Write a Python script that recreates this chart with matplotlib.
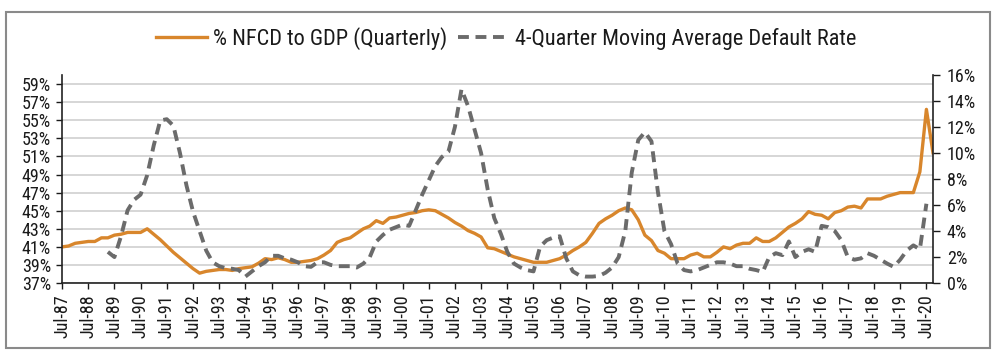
import numpy as np
import pandas as pd
import matplotlib
matplotlib.use("Agg")
import matplotlib.pyplot as plt
import matplotlib.dates as mdates
from matplotlib.patches import Rectangle

plt.rcParams['font.family'] = ['Roboto Condensed', 'DejaVu Sans']

# quarterly, Jul-87 .. Oct-20
nfcd_gdp = [
    41.0, 41.1, 41.4, 41.5,  # Jul-87
    41.6, 41.6, 42.0, 42.0,  # Jul-88
    42.3, 42.4, 42.6, 42.6,  # Jul-89
    42.6, 43.0, 42.4, 41.8,  # Jul-90
    41.1, 40.4, 39.8, 39.2,  # Jul-91
    38.6, 38.1, 38.3, 38.4,  # Jul-92
    38.5, 38.5, 38.4, 38.6,  # Jul-93
    38.7, 38.8, 39.2, 39.7,  # Jul-94
    39.6, 39.8, 39.6, 39.3,  # Jul-95
    39.3, 39.4, 39.5, 39.7,  # Jul-96
    40.1, 40.6, 41.5, 41.8,  # Jul-97
    42.0, 42.5, 43.0, 43.3,  # Jul-98
    43.9, 43.6, 44.2, 44.3,  # Jul-99
    44.5, 44.7, 44.8, 45.0,  # Jul-00
    45.1, 45.0, 44.6, 44.2,  # Jul-01
    43.7, 43.3, 42.8, 42.5,  # Jul-02
    42.1, 40.9, 40.8, 40.5,  # Jul-03
    40.2, 39.9, 39.7, 39.5,  # Jul-04
    39.3, 39.3, 39.3, 39.5,  # Jul-05
    39.7, 40.1, 40.6, 41.0,  # Jul-06
    41.5, 42.5, 43.6, 44.1,  # Jul-07
    44.5, 45.0, 45.3, 45.1,  # Jul-08
    44.0, 42.3, 41.7, 40.6,  # Jul-09
    40.3, 39.7, 39.7, 39.7,  # Jul-10
    40.1, 40.3, 39.9, 39.9,  # Jul-11
    40.4, 41.0, 40.8, 41.2,  # Jul-12
    41.4, 41.4, 42.0, 41.6,  # Jul-13
    41.6, 42.0, 42.6, 43.2,  # Jul-14
    43.6, 44.1, 44.9, 44.6,  # Jul-15
    44.5, 44.1, 44.8, 45.0,  # Jul-16
    45.4, 45.5, 45.3, 46.3,  # Jul-17
    46.3, 46.3, 46.6, 46.8,  # Jul-18
    47.0, 47.0, 47.0, 49.3,  # Jul-19
    56.2, 51.4,              # Jul-20
]

# 4-quarter moving average default rate, Apr-89 .. Jul-20
default_rate = [
    2.4,                     # Apr-89
    2.0, 3.6, 5.6, 6.4,      # Jul-89
    6.8, 8.3, 10.6, 12.5,    # Jul-90
    12.6, 12.1, 10.0, 7.5,   # Jul-91
    5.5, 4.0, 2.5, 1.6,      # Jul-92
    1.3, 1.15, 1.1, 1.0,     # Jul-93
    0.5, 0.9, 1.3, 1.6,      # Jul-94
    2.1, 2.1, 1.9, 1.8,      # Jul-95
    1.6, 1.3, 1.25, 1.6,     # Jul-96
    1.6, 1.4, 1.3, 1.3,      # Jul-97
    1.3, 1.2, 1.5, 2.0,      # Jul-98
    3.2, 3.7, 4.1, 4.3,      # Jul-99
    4.5, 4.4, 5.6, 6.8,      # Jul-00
    7.9, 9.0, 9.7, 10.1,     # Jul-01
    12.0, 14.9, 13.6, 11.8,  # Jul-02
    10.0, 7.2, 5.0, 3.8,     # Jul-03
    2.4, 1.5, 1.2, 1.0,      # Jul-04
    0.9, 2.8, 3.3, 3.5,      # Jul-05
    3.6, 1.9, 0.9, 0.6,      # Jul-06
    0.5, 0.5, 0.55, 0.8,     # Jul-07
    1.2, 2.0, 4.0, 8.5,      # Jul-08
    11.0, 11.6, 10.9, 7.0,   # Jul-09
    4.0, 3.0, 1.5, 1.0,      # Jul-10
    0.9, 1.0, 1.2, 1.4,      # Jul-11
    1.6, 1.6, 1.5, 1.3,      # Jul-12
    1.3, 1.1, 1.0, 0.85,     # Jul-13
    2.0, 2.3, 2.15, 3.2,     # Jul-14
    2.0, 2.4, 2.6, 2.4,      # Jul-15
    4.4, 4.3, 4.0, 3.3,      # Jul-16
    2.0, 1.8, 1.9, 2.3,      # Jul-17
    2.1, 1.8, 1.5, 1.25,     # Jul-18
    1.8, 2.5, 2.9, 2.6,      # Jul-19
    6.1,                     # Jul-20
]

quarters = pd.date_range('1987-07-01', periods=len(nfcd_gdp), freq='QS')
dr = pd.Series(default_rate, index=pd.date_range('1989-04-01', periods=len(default_rate), freq='QS'))
dr = dr.reindex(quarters)

tick_dates = pd.date_range('1987-07-01', '2020-07-01', freq='12MS')

orange = '#D8862C'
grey = '#6B6B6B'
txt = '#1a1a1a'

fig = plt.figure(figsize=(10, 3.57), dpi=100)
ax = fig.add_axes([0.062, 0.207, 0.871, 0.583])
ax2 = ax.twinx()

l1, = ax.plot(quarters, nfcd_gdp, color=orange, lw=2.4, solid_joinstyle='round')
l2, = ax2.plot(quarters, dr.values, color=grey, lw=2.8, dashes=(2.8, 1.7))

ax.set_ylim(37, 60)
ax.set_yticks(np.arange(37, 60, 2))
ax.set_yticklabels(['%d%%' % v for v in np.arange(37, 60, 2)])
ax2.set_ylim(0, 16)
ax2.set_yticks(np.arange(0, 17, 2))
ax2.set_yticklabels(['%d%%' % v for v in np.arange(0, 17, 2)])

ax.set_xlim(quarters[0], quarters[-1])
ax.set_xticks(tick_dates)
ax.xaxis.set_major_formatter(mdates.DateFormatter('%b-%y'))
for lab in ax.get_xticklabels():
    lab.set_rotation(90)

ax.grid(axis='y', color='#cfcfcf', lw=1.2)
ax.set_axisbelow(True)

for a in (ax, ax2):
    a.spines['top'].set_visible(False)
    for s in a.spines.values():
        s.set_color('#222222')
        s.set_linewidth(1.2)
ax.spines['right'].set_visible(False)
ax2.spines['left'].set_visible(False)
ax2.spines['bottom'].set_visible(False)

ax.tick_params(axis='y', labelsize=13, length=4, width=1, pad=4, colors=txt)
ax.tick_params(axis='x', labelsize=13, length=4, width=1, pad=4, colors=txt)
ax2.tick_params(axis='y', labelsize=13, length=5, width=1, pad=5, colors=txt)

fig.legend([l1, l2], ['% NFCD to GDP (Quarterly)', '4-Quarter Moving Average Default Rate'],
           loc='center', bbox_to_anchor=(0.506, 0.893), ncol=2, frameon=False,
           fontsize=16, handlelength=2.3, handletextpad=0.25, columnspacing=0.5,
           labelcolor=txt)

fig.patches.append(Rectangle((0.006, 0.026), 0.984, 0.94, transform=fig.transFigure,
                             fill=False, edgecolor='#8a8a8a', lw=1.5))

fig.savefig('out.png', dpi=100)
